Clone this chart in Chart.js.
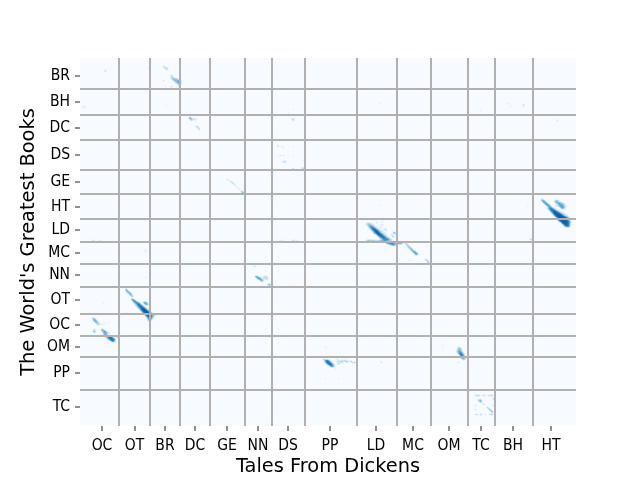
<!DOCTYPE html>
<html>
<head>
<meta charset="utf-8">
<script src="https://cdn.jsdelivr.net/npm/chart.js@4"></script>
<style>
  body { margin: 0; background: #fff; }
</style>
</head>
<body>
<canvas id="chart" width="640" height="480"></canvas>
<script>
// book order and where each book's label and edge fall, in text segments
const xBooks = ["OC", "OT", "BR", "DC", "GE", "NN", "DS", "PP", "LD", "MC", "OM", "TC", "BH", "HT"]
const xLabelAt = [22, 54.5, 85, 115, 147, 178, 208, 250, 296, 333, 369, 401, 433, 471]
const xEdges = [39, 70, 100, 130, 165, 192, 225, 277, 317, 351, 388, 415, 453]
const yBooks = ["BR", "BH", "DC", "DS", "GE", "HT", "LD", "MC", "NN", "OT", "OC", "OM", "PP", "TC"]
const yLabelAt = [18, 44, 70, 97, 124, 149, 172, 195, 217, 242, 267, 289, 315, 349]
const yEdges = [31, 57, 82, 112, 136, 161, 184, 206, 229, 256, 278, 299, 332]
const xTotal = 496
const yTotal = 368

// similarity cells, each row is [y segment, first x segment, level, level, ...]
const brCells = [
   [8, 83, 2, 2], [9, 84, 3, 2, 1], [10, 68, 1], [10, 85, 2, 3, 2], [11, 86, 2, 2],
   [12, 24, 1, 2], [13, 25, 2],
   [17, 91, 3], [18, 91, 3, 2], [19, 91, 2, 3, 2], [20, 91, 3, 4, 3, 2, 3, 2],
   [21, 92, 2, 4, 5, 3, 4, 3, 2], [22, 83, 2], [22, 93, 2, 4, 5, 4, 5, 4, 2],
   [23, 94, 2, 3, 5, 5, 6, 6, 3], [24, 95, 2, 3, 4, 5, 7, 5], [25, 96, 2, 3, 4, 6, 4],
   [26, 98, 3, 4, 3], [27, 98, 2, 3], [28, 85, 1], [28, 91, 2], [28, 99, 3], [29, 91, 1], [29, 98, 1],
]
const bhCells = [
   [33, 65, 1], [45, 300, 1], [45, 427, 1, 1], [46, 443, 2], [47, 443, 2], [47, 86, 1],
   [48, 2, 1, 2], [48, 430, 1], [48, 443, 1], [49, 4, 1, 1], [51, 213, 1], [52, 400, 1],
   [60, 212, 2], [61, 212, 2, 3], [62, 213, 2], [62, 477, 2],
]
const dcCells = [
   [59, 109, 4, 3], [60, 109, 3, 5, 3], [60, 113, 1], [60, 115, 1], [61, 110, 2, 4, 2, 2, 2, 2],
   [62, 111, 2], [68, 116, 3, 2], [69, 117, 3, 2], [70, 118, 3], [71, 119, 3],
]
const dsCells = [
   [87, 197, 2], [88, 198, 2], [88, 201, 1], [88, 213, 1], [89, 203, 2],
   [97, 197, 1], [97, 200, 2], [97, 203, 1], [97, 213, 1], [102, 223, 1],
   [103, 202, 2, 1, 2, 3], [104, 204, 2], [109, 222, 2], [110, 212, 2, 2], [110, 222, 2, 3],
]
const geCells = [
   [120, 146, 1], [121, 147, 1, 1], [122, 149, 1], [123, 150, 2, 1], [124, 151, 2, 2],
   [125, 152, 2, 2], [126, 154, 2], [127, 155, 2], [129, 157, 2], [131, 159, 2],
   [133, 161, 3, 2], [134, 162, 5, 4, 3], [135, 163, 2], [137, 165, 2],
]
const ldCells = [
   [147, 300, 1], [163, 302, 1], [164, 296, 2],
   [165, 286, 1, 2, 3, 3, 2, 1], [166, 286, 2, 3, 4, 4, 3, 2, 1, 1], [166, 302, 2],
   [167, 287, 2, 4, 5, 5, 4, 3, 2, 1], [167, 300, 1, 2], [168, 288, 2, 4, 6, 6, 5, 4, 2, 1, 1],
   [169, 288, 2, 3, 5, 7, 7, 5, 3, 2, 1, 1], [169, 301, 2], [170, 289, 2, 3, 5, 7, 8, 7, 5, 3, 2, 1, 1], [170, 305, 2],
   [171, 290, 2, 4, 6, 8, 8, 7, 5, 3, 2, 1, 1], [171, 304, 2, 2], [172, 291, 2, 4, 6, 8, 9, 8, 6, 4, 2, 1, 1, 1], [172, 306, 2],
   [173, 292, 2, 4, 6, 8, 9, 8, 6, 4, 3, 2, 1, 1], [174, 293, 3, 5, 7, 8, 9, 8, 6, 4, 3, 2, 1, 1],
   [174, 313, 3, 4], [175, 294, 3, 5, 7, 8, 9, 8, 6, 4, 3, 2, 2, 1], [175, 314, 4, 3],
   [176, 296, 3, 6, 8, 9, 8, 7, 5, 3, 2, 1, 1], [176, 311, 2, 2], [177, 297, 3, 6, 7, 8, 8, 7, 5, 3, 2, 1, 1],
   [178, 298, 3, 5, 7, 8, 8, 7, 6, 4, 2, 1, 1], [178, 312, 3, 3], [179, 299, 3, 5, 6, 7, 8, 7, 6, 4, 2, 1, 1],
   [180, 300, 3, 4, 6, 7, 7, 7, 6, 5, 3, 2, 1], [181, 301, 3, 4, 6, 7, 7, 7, 7, 6, 4, 3, 2],
   [182, 12, 1, 2, 1], [182, 19, 1, 2], [182, 200, 1, 1, 1, 1], [182, 212, 2, 2, 1, 1, 1, 1],
   [182, 286, 2, 3, 4, 4, 3, 3, 4, 3, 3, 2, 3], [182, 298, 3, 3, 4, 5, 5, 5, 6, 6, 5, 5, 4, 3, 3, 2],
   [185, 306, 3, 5, 6, 6, 7, 7, 7, 6, 5, 4, 3], [185, 318, 5, 5, 5, 4, 2], [186, 309, 2, 4, 5, 6, 6, 6, 4, 2, 1],
   [187, 312, 3, 3, 2, 1],
]
const mcCells = [
   [185, 325, 3, 2], [186, 326, 3, 3], [187, 326, 2, 3, 2], [187, 347, 1], [188, 327, 2, 4, 3], [189, 328, 3, 4, 3],
   [190, 329, 3, 4, 3], [191, 330, 3, 5, 3], [192, 331, 3, 5, 3], [193, 332, 3, 5, 5, 2],
   [194, 333, 3, 6, 6, 2], [195, 334, 2, 5, 6, 3], [196, 335, 3, 5, 3], [192, 65, 2], [193, 65, 1],
   [201, 345, 3, 2], [202, 328, 1, 1], [202, 332, 1], [202, 346, 3, 3], [203, 347, 3, 3], [204, 348, 4],
]
const nnCells = [
   [207, 173, 1], [208, 174, 2, 1], [219, 65, 1],
   [218, 175, 4, 5, 3, 1], [218, 184, 2, 2, 2], [219, 176, 4, 6, 5, 3, 2, 1], [219, 183, 2, 3, 2, 3, 2],
   [220, 177, 3, 6, 6, 4, 3, 2, 2], [220, 185, 2, 3, 2], [221, 179, 4, 6, 4, 2, 2, 1], [221, 186, 2, 2],
   [222, 180, 3, 5, 4, 2], [223, 181, 3, 2], [226, 187, 1, 3, 5, 2], [227, 188, 2, 3, 2], [227, 213, 1],
]
const otCells = [
   [231, 45, 3, 4], [232, 46, 5, 4], [233, 46, 3, 5, 4], [234, 47, 3, 5, 5], [235, 48, 2, 4, 5],
   [236, 49, 3, 5, 4], [237, 50, 3, 4, 3], [238, 51, 2, 3], [239, 52, 1],
   [241, 51, 3, 6, 3], [242, 52, 4, 6, 5, 2], [243, 53, 4, 7, 6, 3],
   [244, 53, 2, 4, 6, 7, 5, 3, 1], [244, 63, 3, 5, 5, 3], [245, 23, 1], [245, 54, 2, 4, 6, 7, 7, 4, 2], [245, 64, 4, 6, 5, 3],
   [246, 55, 2, 4, 6, 8, 7, 5, 2], [246, 65, 3, 5, 4, 2], [247, 55, 2, 3, 5, 7, 8, 7, 5, 2, 1], [248, 56, 2, 3, 5, 7, 8, 8, 6, 3, 1],
   [249, 57, 2, 4, 6, 8, 8, 8, 6, 3, 1], [250, 58, 2, 4, 6, 8, 9, 8, 7, 4, 2], [251, 59, 2, 4, 7, 9, 9, 9, 7, 4, 2, 1],
   [252, 60, 2, 5, 7, 9, 9, 9, 8, 5, 3, 1], [253, 61, 3, 5, 8, 9, 9, 9, 8, 6, 3, 1], [254, 47, 1], [254, 62, 3, 6, 8, 9, 9, 9, 9, 7, 4, 2],
   [255, 63, 3, 6, 8, 9, 9, 9, 9, 8, 5, 2], [257, 65, 4, 7, 8, 9, 9, 8, 7, 5, 4, 2, 1], [258, 66, 4, 6, 8, 8, 7, 6, 4, 2, 1],
   [259, 67, 4, 6, 7, 7, 6, 3, 2], [260, 67, 3, 5, 7, 6, 4, 2], [261, 68, 4, 6, 5, 3], [262, 68, 3, 4, 2],
]
const ocCells = [
   [260, 12, 3, 4, 3], [261, 13, 4, 5, 3], [262, 13, 3, 5, 5, 2], [263, 14, 3, 5, 5, 2],
   [264, 15, 3, 4, 4, 2], [264, 25, 1], [264, 28, 1], [265, 16, 2, 4, 3, 1], [266, 17, 2, 3, 2, 1], [266, 23, 1, 1],
   [271, 21, 3, 4, 2], [271, 14, 2, 1], [272, 13, 3, 2], [272, 21, 3, 5, 4, 2, 1], [273, 13, 3, 4, 2], [273, 22, 2, 5, 6, 4, 2, 1],
   [274, 14, 2, 1], [274, 22, 2, 4, 6, 6, 3, 2, 1, 1], [275, 24, 2, 4, 5, 3, 2, 1], [276, 23, 3, 5, 6, 4, 2],
   [279, 25, 2, 3, 5, 7, 8, 8, 7, 4, 2, 1], [279, 37, 3, 4, 2], [280, 27, 3, 5, 7, 8, 8, 7, 5, 2, 1], [281, 28, 3, 5, 7, 8, 8, 7, 5, 2],
   [282, 30, 3, 6, 8, 7, 4, 2], [283, 31, 2, 4, 5, 3],
]
const omCells = [
   [287, 362, 1], [289, 245, 1, 1], [289, 378, 2, 2], [290, 377, 2, 4, 4, 3, 1], [290, 362, 1], [291, 378, 3, 5, 4, 2],
   [292, 377, 3, 5, 4, 3, 2], [293, 376, 2, 3, 4, 6, 5, 3, 1], [294, 377, 2, 5, 6, 7, 5, 2, 1],
   [295, 378, 3, 6, 7, 7, 4, 2], [296, 379, 4, 7, 8, 6, 3], [297, 380, 5, 7, 7, 5, 2],
   [300, 381, 3, 5, 5, 4, 3], [301, 383, 3, 2], [304, 378, 2],
]
const ppCells = [
   [301, 243, 3, 2], [301, 257, 2], [302, 244, 3, 5, 7, 7, 5, 2], [302, 258, 2], [302, 261, 2, 2], [302, 264, 3, 2],
   [303, 244, 2, 5, 7, 8, 7, 5, 3, 1], [303, 256, 2, 2], [303, 259, 3, 3, 3, 3, 2], [303, 265, 3, 4, 3, 2], [303, 270, 3, 2], [303, 300, 1],
   [304, 245, 3, 6, 8, 8, 7, 5, 2, 1], [304, 260, 2, 1, 2], [304, 272, 3, 0, 4], [304, 301, 2],
   [305, 246, 3, 6, 8, 8, 8, 5, 3, 1], [305, 257, 2, 3, 2], [306, 247, 3, 5, 7, 8, 7, 5, 2, 1],
   [307, 249, 3, 6, 7, 6, 4, 2], [308, 250, 3, 5, 5, 4, 2], [310, 255, 1], [320, 245, 1], [320, 258, 1],
]
const tcCells = [
   [337, 395, 2, 3, 2, 3, 2], [337, 402, 1, 2, 2, 1], [337, 408, 2, 2, 2, 3, 2],
   [340, 413, 3], [341, 398, 2], [341, 400, 2], [341, 413, 2], [342, 398, 3, 4, 4, 3],
   [343, 399, 3, 5, 3], [345, 402, 2], [346, 404, 2], [347, 395, 2], [347, 413, 2], [349, 407, 3], [350, 408, 3, 2], [351, 395, 2], [351, 409, 4],
   [352, 410, 4, 3], [353, 411, 4, 3], [354, 412, 3], [356, 395, 2, 1, 2], [356, 400, 3, 2], [356, 405, 2], [356, 409, 2, 2, 3, 3],
]
const htCells = [
   [141, 461, 2, 3], [142, 461, 3, 5, 4, 2], [142, 475, 2, 3, 3, 2], [143, 462, 3, 6, 5, 2], [143, 474, 2, 4, 5, 4, 3, 1],
   [144, 463, 4, 6, 5, 2], [144, 475, 3, 5, 5, 4, 3, 3, 2], [145, 464, 3, 6, 6, 3, 1], [145, 476, 2, 4, 6, 6, 4, 4, 3, 2],
   [146, 465, 3, 6, 6, 4, 2], [146, 477, 2, 3, 5, 6, 5, 5, 4, 2, 1], [147, 447, 1], [147, 466, 2, 5, 6, 4, 2],
   [147, 475, 2, 2, 2, 3, 5, 6, 6, 5, 3, 2, 1], [148, 467, 2, 5, 6, 4, 1], [148, 478, 2, 3, 5, 6, 6, 5, 3, 2, 1],
   [149, 467, 2, 3, 6, 6, 4, 2], [149, 480, 3, 5, 6, 5, 3, 1], [150, 467, 2, 4, 6, 7, 7, 5, 3, 2, 1], [150, 481, 3, 4, 4, 2, 1],
   [151, 468, 2, 4, 7, 8, 8, 6, 4, 2, 1, 1], [152, 469, 2, 5, 7, 8, 8, 7, 5, 3, 2, 1, 1], [153, 470, 3, 5, 7, 8, 9, 8, 7, 5, 3, 2, 1, 1],
   [154, 471, 3, 6, 8, 9, 9, 8, 7, 6, 4, 2, 2, 1, 1], [155, 472, 3, 6, 8, 9, 9, 9, 8, 7, 5, 3, 2, 2, 1],
   [156, 473, 4, 7, 8, 9, 9, 9, 9, 8, 6, 4, 3, 2, 1, 1], [157, 474, 4, 7, 9, 9, 9, 9, 9, 8, 7, 5, 3, 2, 2, 1],
   [158, 475, 4, 7, 9, 9, 9, 9, 9, 9, 8, 6, 4, 3, 2, 1], [159, 476, 3, 5, 8, 9, 9, 9, 9, 9, 9, 8, 7, 5, 3, 2],
   [162, 478, 5, 7, 8, 9, 9, 9, 9, 8, 8, 7, 5, 3], [163, 479, 3, 6, 8, 9, 9, 9, 9, 9, 8, 7, 5, 3],
   [164, 481, 5, 8, 9, 9, 9, 9, 8, 7, 5, 3], [165, 482, 5, 8, 8, 9, 9, 8, 7, 5], [166, 483, 4, 7, 8, 8, 8, 7, 5],
   [167, 484, 5, 7, 8, 8, 7, 4], [168, 485, 4, 5, 6, 5, 3], [179, 452, 2], [181, 450, 3, 2],
]
const allRows = [brCells, bhCells, dcCells, dsCells, geCells, ldCells, mcCells, nnCells, otCells, ocCells, omCells, ppCells, tcCells, htCells]

const cells = []
allRows.forEach(block => block.forEach(row => {
   row.slice(2).forEach((level, i) => {
      if (level > 0) cells.push({x: row[1] + i + 0.5, y: row[0] + 0.5, level: level})
   })
}))
// paler cells first so the dark ones stay on top
cells.sort((a, b) => a.level - b.level)

// seaborn's Blues ramp
const blues = [[247, 251, 255], [222, 235, 247], [198, 219, 239], [158, 202, 225], [107, 174, 214], [66, 146, 198], [33, 113, 181], [8, 81, 156], [8, 48, 107]]
const levelColor = level => {
   const t = level / 11 * (blues.length - 1)
   const i = Math.floor(t)
   const f = t - i
   const c = blues[i].map((v, k) => Math.round(v + (blues[i + 1][k] - v) * f))
   return `rgb(${c[0]},${c[1]},${c[2]})`
}

const panelBackground = {
   id: "panelBackground",
   beforeDraw(chart) {
      const a = chart.chartArea
      chart.ctx.fillStyle = "#f7fbff"
      chart.ctx.fillRect(a.left, a.top, a.right - a.left, a.bottom - a.top)
   }
}

const axisOptions = (names, labelAt, edges, total, title, tickPad) => ({
   type: "linear",
   min: 0,
   max: total,
   afterBuildTicks: scale => {
      scale.ticks = edges.concat(labelAt).map(value => ({value: value}))
   },
   ticks: {
      autoSkip: false,
      maxRotation: 0,
      padding: tickPad,
      color: "#000",
      font: {family: "'DejaVu Sans Condensed', 'DejaVu Sans'", size: 15.5},
      callback: value => labelAt.includes(value) ? names[labelAt.indexOf(value)] : ""
   },
   grid: {
      z: 1,
      tickLength: 5,
      tickWidth: 1,
      lineWidth: ctx => edges.includes(ctx.tick.value) ? 2 : 0,
      color: "#b0b0b0",
      tickColor: ctx => edges.includes(ctx.tick.value) ? "rgba(0,0,0,0)" : "#222"
   },
   border: {display: false},
   title: {
      display: true,
      text: title,
      color: "#000",
      font: {family: "'DejaVu Sans'", size: 19.4},
      padding: 0
   }
})

const xAxis = axisOptions(xBooks, xLabelAt, xEdges, xTotal, "Tales From Dickens", 6)
xAxis.position = "bottom"
xAxis.title.padding = {top: 0, bottom: 1}
xAxis.afterFit = scale => { scale.height = 54 }

const yAxis = axisOptions(yBooks, yLabelAt, yEdges, yTotal, "The World's Greatest Books", 5)
yAxis.position = "left"
yAxis.reverse = true
yAxis.title.padding = {top: 17.5, bottom: 0}
yAxis.afterFit = scale => { scale.width = 80 }

new Chart(document.getElementById("chart"), {
   type: "scatter",
   data: {
      datasets: [{
         data: cells,
         pointStyle: "rect",
         pointRadius: 1.06,
         pointBorderWidth: 0,
         pointBackgroundColor: ctx => levelColor(ctx.raw.level)
      }]
   },
   options: {
      responsive: false,
      animation: false,
      layout: {padding: {top: 58, right: 64, left: 0, bottom: 0}},
      plugins: {legend: {display: false}, tooltip: {enabled: false}},
      scales: {x: xAxis, y: yAxis}
   },
   plugins: [panelBackground]
})
</script>
</body>
</html>
